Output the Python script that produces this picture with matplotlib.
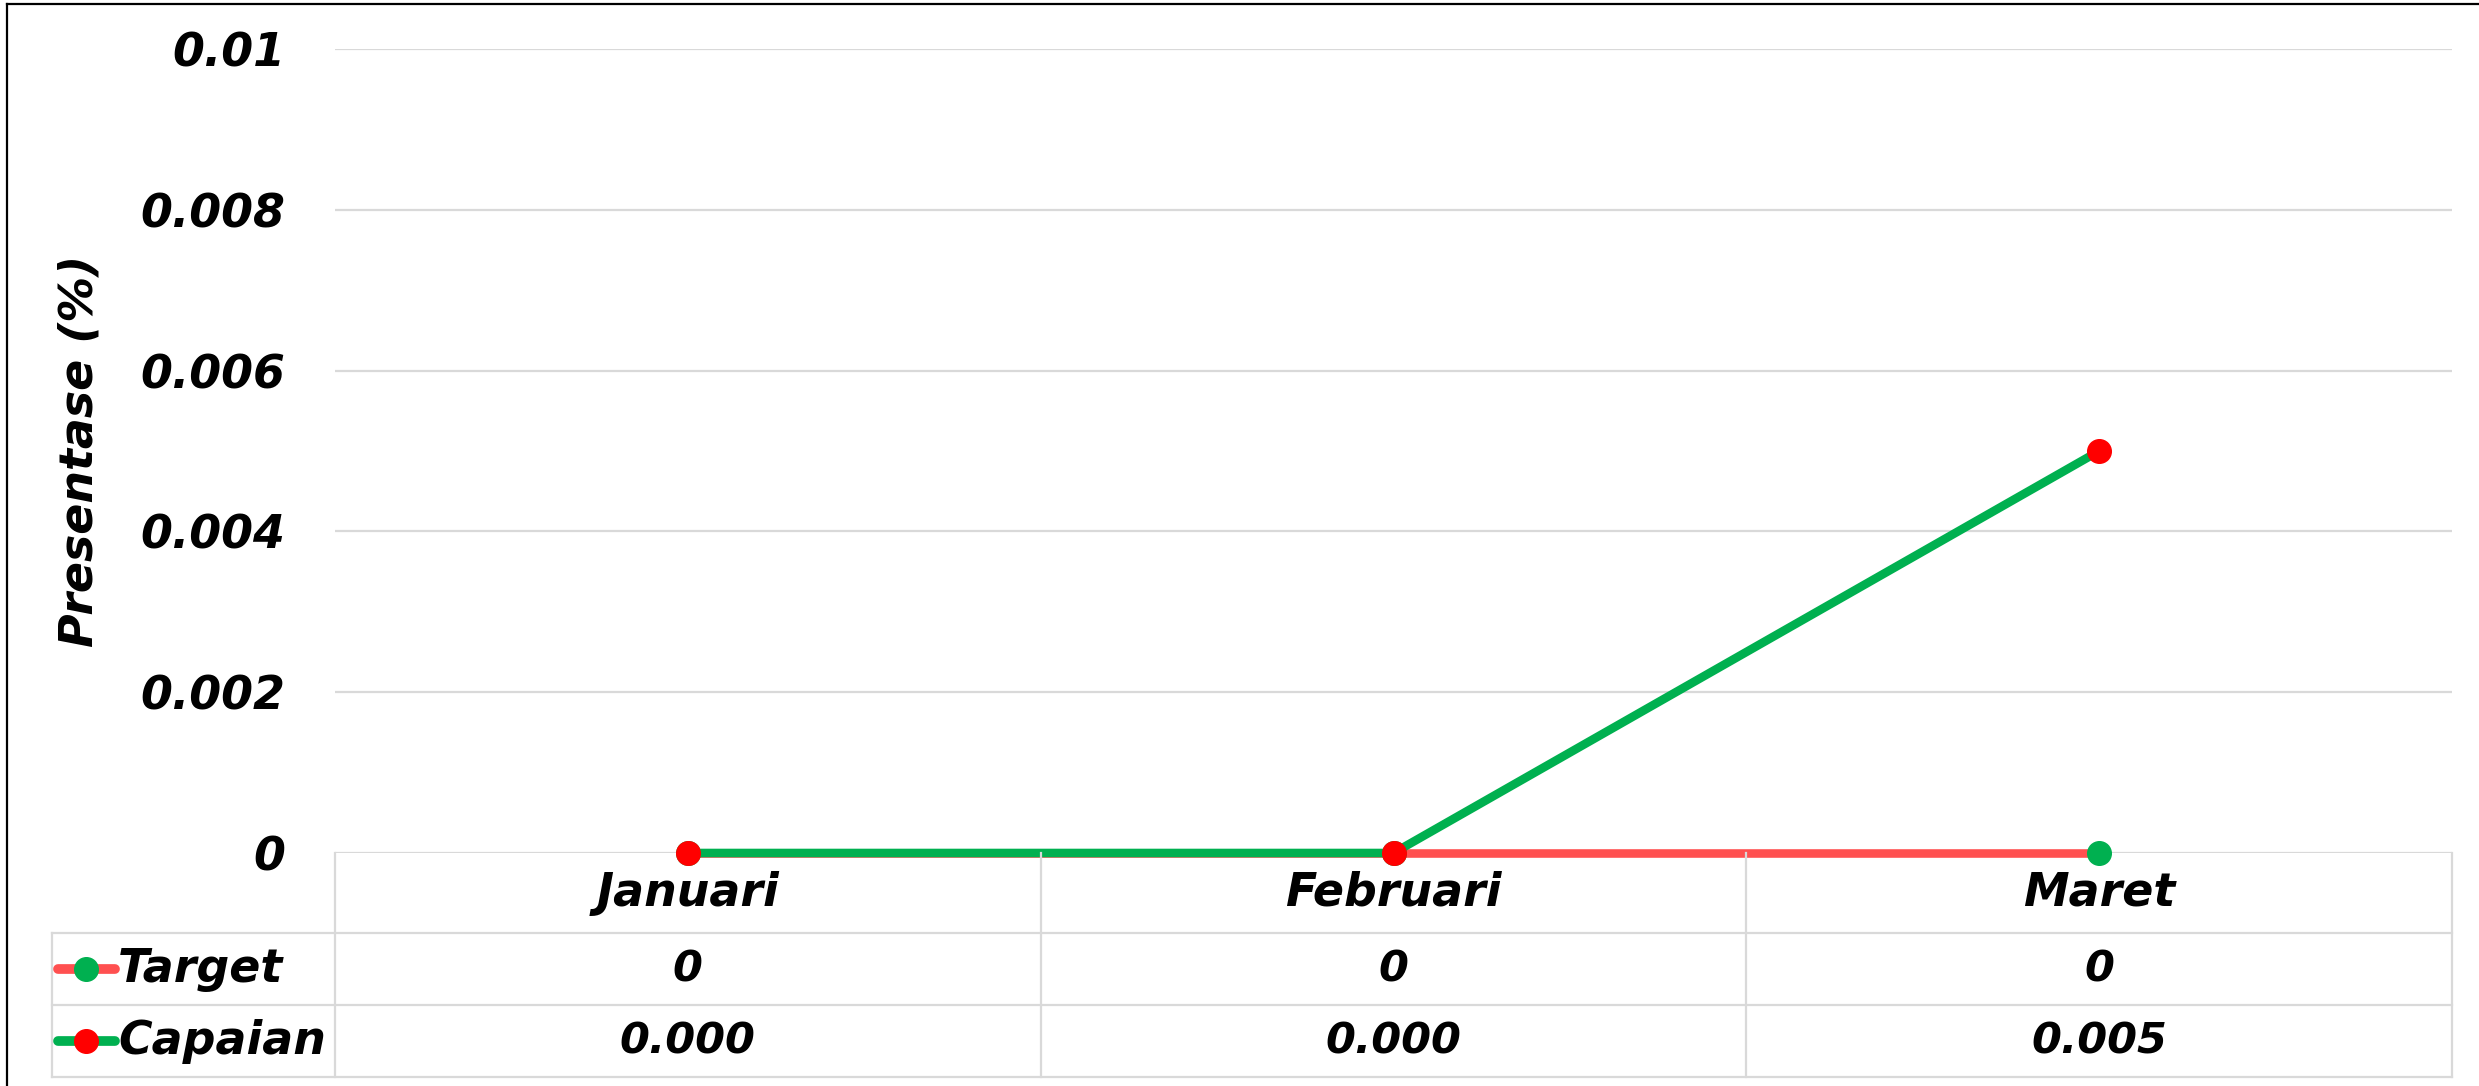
import matplotlib
matplotlib.use('Agg')
import matplotlib.pyplot as plt
from matplotlib.lines import Line2D
import numpy as np

months   = ['Januari', 'Februari', 'Maret']
target   = [0, 0, 0]
capaian  = [0.0, 0.0, 0.005]
yticks   = [0, 0.002, 0.004, 0.006, 0.008, 0.01]
ytick_labels = ['0', '0.002', '0.004', '0.006', '0.008', '0.01']

GREEN = '#00B050'
RED_L = '#FF5050'
RED   = '#FF0000'
GRID  = '#D9D9D9'

plt.rcParams['font.family'] = ['DejaVu Sans']
plt.rcParams['font.weight'] = 'bold'
plt.rcParams['font.style'] = 'italic'
FS = 33

W, H = 2479, 1086
fig = plt.figure(figsize=(W / 100, H / 100), dpi=100)
fig.patch.set_facecolor('white')

def fx(p):
    return p / W

def fy(p):
    return 1 - p / H

# plot area
L, R, T, B = 335, 2452, 49, 853
ax = fig.add_axes([fx(L), fy(B), fx(R) - fx(L), fy(T) - fy(B)])
ax.set_xlim(-0.5, len(months) - 0.5)
ax.set_ylim(0, 0.01)
ax.set_yticks(yticks)
ax.set_yticklabels(ytick_labels, fontsize=FS)
ax.set_xticks([])
ax.tick_params(axis='y', length=0, pad=36)
ax.yaxis.grid(True, color=GRID, linewidth=1.6)
ax.set_axisbelow(True)
for s in ax.spines.values():
    s.set_visible(False)

x = np.arange(len(months))
ax.plot(x, target, color=RED_L, linewidth=6.2, marker='o', markersize=17,
        markerfacecolor=GREEN, markeredgecolor=GREEN, clip_on=False, zorder=3,
        solid_capstyle='butt')
ax.plot(x, capaian, color=GREEN, linewidth=6.2, marker='o', markersize=17,
        markerfacecolor=RED, markeredgecolor=RED, clip_on=False, zorder=4,
        solid_capstyle='butt')

fig.text(fx(80), fy(451), 'Presentase (%)', rotation=90, ha='center',
         va='center', fontsize=FS)

# data table under the plot
rows = [B, 933, 1005, 1077]
TL = 52
col_edges = np.linspace(L, R, len(months) + 1)
col_mid = (col_edges[:-1] + col_edges[1:]) / 2

def hline(x0, x1, y, **kw):
    fig.add_artist(Line2D([fx(x0), fx(x1)], [fy(y), fy(y)], **kw))

def vline(xp, y0, y1, **kw):
    fig.add_artist(Line2D([fx(xp), fx(xp)], [fy(y0), fy(y1)], **kw))

for y in rows[1:]:
    hline(TL, R, y, color=GRID, linewidth=1.6)
for xe in col_edges:
    vline(xe, rows[0], rows[-1], color=GRID, linewidth=1.6)
vline(TL, rows[1], rows[-1], color=GRID, linewidth=1.6)

for xm, m in zip(col_mid, months):
    fig.text(fx(xm), fy((rows[0] + rows[1]) / 2), m, ha='center', va='center',
             fontsize=FS)

series = [('Target', target, RED_L, GREEN, [f'{v:g}' for v in target]),
          ('Capaian', capaian, GREEN, RED, [f'{v:.3f}' for v in capaian])]
for i, (name, vals, lc, mc, labels) in enumerate(series):
    yc = (rows[i + 1] + rows[i + 2]) / 2
    hline(58, 115, yc, color=lc, linewidth=7, solid_capstyle='round')
    fig.add_artist(Line2D([fx(86)], [fy(yc)], marker='o', markersize=17,
                          markerfacecolor=mc, markeredgecolor=mc))
    fig.text(fx(118), fy(yc), name, ha='left', va='center', fontsize=FS)
    for xm, lab in zip(col_mid, labels):
        fig.text(fx(xm), fy(yc), lab, ha='center', va='center', fontsize=FS - 2)

# chart border (top and left edges)
hline(7, W, 4, color='black', linewidth=1.6)
vline(7, 4, H, color='black', linewidth=1.6)

plt.savefig('out.png', dpi=100)
plt.close()
